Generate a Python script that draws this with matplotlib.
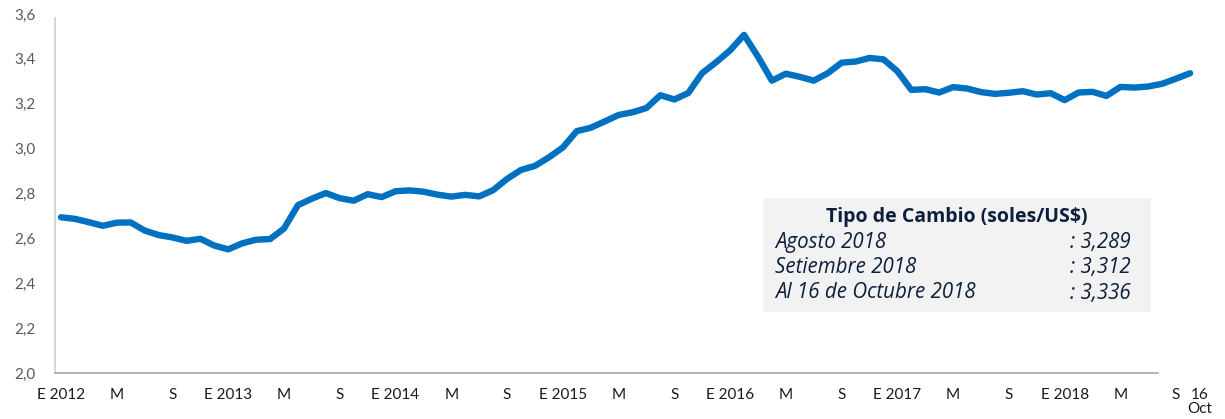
import matplotlib
matplotlib.use("Agg")
import matplotlib.pyplot as plt
from matplotlib.patches import Rectangle
import numpy as np

plt.rcParams['font.family'] = ['Lato', 'DejaVu Sans']

# monthly average exchange rate, Jan 2012 .. Oct 2018 (Oct = up to the 16th)
tc_2012 = [2.694, 2.687, 2.672, 2.656, 2.670, 2.671, 2.635, 2.615, 2.604, 2.589, 2.598, 2.568]
tc_2013 = [2.551, 2.578, 2.594, 2.597, 2.644, 2.748, 2.777, 2.802, 2.779, 2.768, 2.797, 2.784]
tc_2014 = [2.810, 2.814, 2.808, 2.795, 2.786, 2.794, 2.787, 2.815, 2.865, 2.905, 2.923, 2.961]
tc_2015 = [3.005, 3.078, 3.093, 3.121, 3.150, 3.162, 3.181, 3.238, 3.219, 3.248, 3.337, 3.385]
tc_2016 = [3.438, 3.507, 3.410, 3.303, 3.334, 3.320, 3.303, 3.336, 3.383, 3.388, 3.404, 3.398]
tc_2017 = [3.345, 3.262, 3.265, 3.250, 3.274, 3.268, 3.252, 3.244, 3.249, 3.256, 3.241, 3.247]
tc_2018 = [3.216, 3.250, 3.253, 3.235, 3.275, 3.272, 3.277, 3.289, 3.312, 3.336]

tc = np.array(tc_2012 + tc_2013 + tc_2014 + tc_2015 + tc_2016 + tc_2017 + tc_2018)
meses = np.arange(len(tc))

tick_labels = ['E 2012', 'M', 'S', 'E 2013', 'M', 'S', 'E 2014', 'M', 'S',
               'E 2015', 'M', 'S', 'E 2016', 'M', 'S', 'E 2017', 'M', 'S',
               'E 2018', 'M', 'S']
tick_pos = list(np.arange(0, 4 * len(tick_labels), 4))

box_title = 'Tipo de Cambio (soles/US$)'
box_rows = ['Agosto 2018', 'Setiembre 2018', 'Al 16 de Octubre 2018']
box_vals = [': 3,289', ': 3,312', ': 3,336']

W, H = 1225, 419
fig = plt.figure(figsize=(W / 100, H / 100), dpi=100)
ax = fig.add_axes([55 / W, (H - 373) / H, 1156 / W, 359 / H])
ax.set_facecolor('none')

ax.plot(meses, tc, color='#0070C0', lw=4.6, solid_capstyle='round', solid_joinstyle='round')

ax.set_ylim(2.0, 3.6)
ax.set_xlim(-0.43, 82.5)
ax.set_yticks(np.arange(2.0, 3.61, 0.2))
ax.set_yticklabels([f'{v:.1f}'.replace('.', ',') for v in np.arange(2.0, 3.61, 0.2)])
ax.set_xticks(tick_pos + [81.7])
ax.set_xticklabels(tick_labels + ['16\nOct'])
ax.tick_params(axis='both', length=0, labelsize=11)
ax.tick_params(axis='y', pad=14, labelcolor='#595959')
ax.tick_params(axis='x', pad=11, labelcolor='#1a1a1a')
for lbl in ax.get_xticklabels():
    lbl.set_verticalalignment('top')
ax.get_xticklabels()[-1].set_linespacing(1.0)

for s in ['top', 'right']:
    ax.spines[s].set_visible(False)
ax.spines['left'].set_color('#d0d0d0')
ax.spines['bottom'].set_color('#a6a6a6')
ax.spines['left'].set_linewidth(1.2)
ax.spines['bottom'].set_linewidth(1.2)
ax.spines['bottom'].set_bounds(-0.43, 78.7)
ax.spines['left'].set_bounds(2.0, 3.58)

# info box
fig.add_artist(Rectangle((763 / W, (H - 312) / H), 388 / W, 114 / H,
                         transform=fig.transFigure, facecolor='#F2F2F2', edgecolor='none', zorder=1))
navy = '#0d1f3c'
box_font = ['Open Sans', 'DejaVu Sans']
fig.text(957 / W, (H - 217) / H, box_title, ha='center', va='center', family=box_font,
         fontsize=14, fontweight='bold', color=navy, zorder=3)
for i, (r, v) in enumerate(zip(box_rows, box_vals)):
    y = (H - (242 + 25.5 * i)) / H
    fig.text(775 / W, y, r, ha='left', va='center', fontsize=14.8, style='italic',
             family=box_font, color=navy, zorder=3)
    fig.text(1131 / W, y, v, ha='right', va='center', fontsize=14.8, style='italic',
             family=box_font, color=navy, zorder=3)

fig.savefig('out.png', dpi=100)
